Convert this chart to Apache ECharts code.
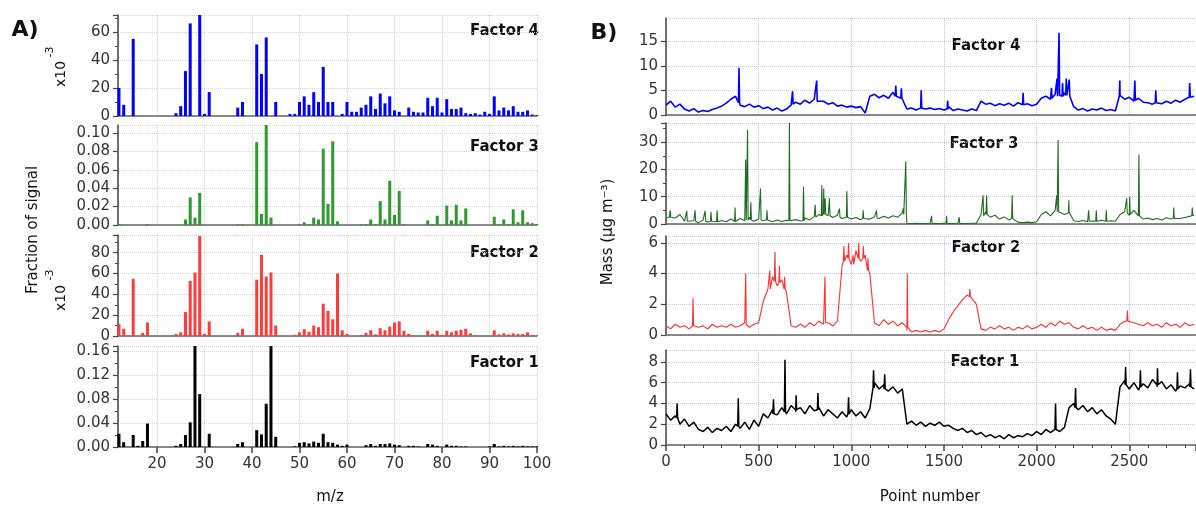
<!DOCTYPE html>
<html><head><meta charset="utf-8">
<script src="https://cdn.jsdelivr.net/npm/echarts@6/dist/echarts.min.js"></script>
<style>html,body{margin:0;padding:0;background:#fff}#c{width:1196px;height:510px}</style>
</head><body><div id="c"></div>
<script>
// ---------- Panel A: mass spectra (m/z 12..100) ----------
const MZ_START = 12;
const specF4 = [20,8,0,55,0,0,0,0,0,0,0,0,2,7,32,66,0,72,1.5,17,0,0,0,0,0,6,10,0,0,51,30,56,0,10,0,0,1.5,1.5,10,14,8,17,10,35,10,10,0,1.5,10,3,3,6,8,14,5,16,9,14,4,3,0,6,3,2.5,2.5,13,7,13,2.5,12,5,5,6,2,1.5,2,1,3,1.5,14,4,6,4,7,3,3,4,1,0.5]; // x10^-3
const specF3 = [0.001,0,0,0,0,0,0.001,0,0,0,0,0,0,0,0.006,0.030,0.008,0.035,0,0,0,0,0,0,0,0.001,0.001,0,0,0.090,0.012,0.109,0.008,0,0,0,0,0,0.001,0.003,0.001,0.008,0.006,0.083,0.023,0.091,0.004,0,0,0,0,0.001,0.001,0.006,0.001,0.026,0.006,0.048,0.011,0.037,0.001,0,0,0,0,0.005,0.001,0.010,0,0.021,0.005,0.022,0.005,0.018,0,0,0,0,0,0.009,0.001,0.006,0.001,0.017,0.003,0.016,0.003,0.002,0.001];
const specF2 = [11.6,7,0,55,0,3,13,0,0,0,0,0,2,3.5,23,53,61,96,2,14,0,0,0,0,0,3,7,0,0,54,78,57,61,10,0,0,0,1,3.5,6.5,4,10,8.5,31,24,16,60,5.5,2,0,0,1,3,5.5,1.5,7.5,5.5,9,13,14,5,2,0.6,0,0,5,2,5,0.8,5,3.5,5,6,7,2.5,0.6,0,0,0,5.5,1.5,2.5,1.5,2.5,2,2,3.5,0.8,0.6]; // x10^-3
const specF1 = [0.022,0.008,0,0.020,0.002,0.010,0.039,0,0,0,0,0,0.002,0.005,0.020,0.041,0.168,0.088,0,0.022,0,0,0,0,0,0.005,0.008,0,0,0.028,0.021,0.072,0.168,0.017,0,0,0,0.001,0.007,0.008,0.006,0.009,0.007,0.022,0.008,0.007,0.004,0.002,0.004,0,0,0,0.003,0.005,0.002,0.005,0.005,0.006,0.004,0.003,0,0.002,0.002,0.001,0,0.005,0.004,0.002,0,0.004,0.002,0.002,0.001,0.001,0,0,0,0,0.001,0.005,0.001,0.002,0.001,0.002,0.001,0.002,0.001,0.001,0.001];

// ---------- Panel B: time series, sampled every 25 points ----------
const STEP = 25;
const tsF4 = [2.0,2.8,1.6,2.2,1.2,0.8,1.3,0.6,0.9,0.7,1.1,1.4,1.8,2.4,3.2,3.8,2.0,1.7,2.2,1.6,1.9,1.3,1.6,1.0,1.4,0.8,1.2,2.0,2.6,2.2,3.0,2.4,3.2,2.6,2.8,2.2,2.5,1.8,2.0,1.6,1.8,1.5,1.7,0.4,3.8,4.2,3.5,4.0,3.4,4.6,3.8,3.2,1.2,1.4,1.0,1.6,1.2,1.4,1.1,1.3,1.0,1.7,0.9,1.2,1.0,0.8,1.2,0.9,2.8,2.2,2.4,1.9,2.3,2.0,2.4,1.8,2.5,2.1,2.3,1.9,2.2,3.4,3.8,3.2,4.2,3.6,4.5,3.8,1.7,1.0,1.3,0.8,1.2,1.0,1.4,0.9,1.1,0.8,4.0,3.2,3.6,2.8,3.4,2.6,2.5,2.2,2.6,2.3,2.8,2.4,3.0,2.6,3.2,3.6,3.8];
const spkF4 = [[394,9.6,2.5],[683,4.8,2.2],[813,7.0,2.8],[1240,6.0,3.8],[1270,5.4,3.4],[1377,5.0,1.4],[1520,2.9,1.2],[1927,4.5,2.1],[2080,5.5,3.4],[2110,7.4,3.8],[2121,16.7,4.0],[2140,6.5,3.8],[2160,7.4,4.0],[2176,7.2,3.8],[2449,7.0,3.8],[2530,7.0,3.0],[2643,5.0,2.5],[2826,6.5,3.6]];
const tsF3 = [2.5,3.8,2.2,3.5,1.0,0.6,1.2,0.5,1.4,0.7,1.6,0.6,1.3,0.8,1.8,0.9,2.0,1.2,2.5,1.0,1.8,1.2,2.0,0.8,1.5,0.9,1.4,1.0,1.6,1.1,2.2,1.5,2.8,3.5,4.2,3.0,2.4,3.2,2.0,2.6,1.8,2.4,1.6,2.2,1.8,2.6,2.0,2.8,2.2,3.0,2.5,4.0,0.3,0.2,0.3,0.2,0.2,0.3,0.2,0.2,0.3,0.2,0.2,0.3,0.2,0.2,0.3,0.3,3.5,4.5,2.5,3.2,1.8,2.6,1.5,2.0,0.6,0.5,0.7,0.5,0.8,3.5,4.5,3.0,5.0,4.0,3.5,4.5,1.2,0.9,1.3,0.8,1.1,0.9,1.4,0.8,1.2,1.0,3.5,4.5,3.2,5.0,3.0,1.8,2.2,1.6,2.0,1.5,2.3,1.8,2.6,2.0,2.4,2.8,3.2];
const spkF3 = [[22,5.0,2.5],[112,4.8,1.0],[157,5.0,1.0],[211,4.8,1.0],[243,4.5,1.0],[276,5.0,0.8],[373,6.0,1.0],[430,23.6,1.5],[440,34.5,1.5],[458,8.0,1.5],[510,13.0,1.5],[545,5.0,1.5],[666,37.0,1.2],[742,13.6,1.2],[805,7.0,2.5],[841,14.2,3.0],[851,13.0,3.5],[859,9.4,3.5],[882,9.4,3.0],[936,5.7,2.5],[976,12.0,2.5],[1064,5.0,2.0],[1136,5.0,2.2],[1280,5.7,3.5],[1294,23.0,3.0],[1433,3.0,0.2],[1514,3.0,0.2],[1582,2.5,0.2],[1711,10.5,3.0],[1730,10.5,3.5],[1868,10.5,2.0],[2108,10.5,4.5],[2116,30.8,4.5],[2174,8.7,4.0],[2281,5.0,1.0],[2322,5.0,1.0],[2376,5.0,1.0],[2486,9.4,4.0],[2502,10.0,3.5],[2552,25.5,3.0],[2740,6.0,2.0],[2840,6.0,3.0]];
const tsF2 = [0.6,0.4,0.7,0.5,0.6,0.4,0.7,0.5,0.6,0.4,0.7,0.5,0.6,0.5,0.7,0.5,0.6,0.8,0.5,0.7,0.8,2.2,3.0,3.8,3.2,3.6,2.8,0.6,0.5,0.7,0.5,0.8,0.6,0.9,0.7,0.8,0.6,0.9,4.5,5.2,4.6,5.5,4.8,5.2,4.0,0.8,0.6,1.0,0.7,0.9,0.6,0.8,0.3,0.2,0.3,0.2,0.3,0.2,0.3,0.2,0.4,1.0,1.5,1.9,2.3,2.6,2.4,2.0,0.4,0.3,0.5,0.4,0.6,0.4,0.5,0.3,0.5,0.4,0.6,0.4,0.5,0.7,0.5,0.8,0.6,0.9,0.7,0.8,0.5,0.4,0.6,0.4,0.5,0.3,0.5,0.3,0.4,0.3,0.7,0.9,1.0,0.8,0.7,0.6,0.8,0.6,0.7,0.5,0.8,0.6,0.7,0.5,0.8,0.6,0.7];
const spkF2 = [[146,2.4,0.6],[430,4.0,0.7],[560,4.2,3.0],[588,5.4,3.5],[612,4.5,3.4],[640,3.8,3.0],[858,3.8,0.8],[960,5.8,4.8],[985,6.0,5.0],[1010,5.2,4.6],[1040,6.0,5.0],[1065,5.8,5.0],[1090,5.0,4.2],[1302,4.0,0.5],[1640,3.0,2.5],[2490,1.6,0.9]];
const tsF1 = [3.0,2.4,2.8,2.0,2.5,1.8,2.2,1.5,1.3,1.7,1.2,1.6,1.4,1.8,1.3,2.0,1.6,2.2,1.5,2.4,1.8,3.0,2.6,3.4,2.9,3.6,3.0,3.8,3.2,3.6,3.0,3.8,3.3,3.6,2.8,3.4,3.0,2.6,3.2,2.7,3.4,2.8,3.2,2.6,3.5,6.0,5.4,5.8,5.2,5.6,5.0,5.4,2.0,2.3,1.9,2.2,1.8,2.1,1.9,2.2,1.8,1.9,1.6,1.4,1.6,1.2,1.4,1.0,1.2,0.8,1.0,0.7,0.9,0.6,1.0,0.7,0.9,0.8,1.1,0.9,1.3,1.0,1.5,1.2,1.6,1.3,1.7,3.6,4.0,3.4,3.8,3.2,3.6,3.0,3.4,2.8,2.5,2.0,5.6,6.2,5.4,6.0,5.3,5.9,5.5,6.3,5.6,6.1,5.4,5.8,5.2,5.7,5.5,5.9,5.4];
const spkF1 = [[60,4.0,2.6],[390,4.5,1.8],[580,4.4,3.0],[642,8.2,3.2],[702,4.8,3.4],[820,5.0,3.4],[985,4.6,3.0],[1120,7.2,5.5],[1180,6.8,5.4],[2102,4.0,1.5],[2210,5.5,3.6],[2480,7.5,5.8],[2560,7.2,5.6],[2652,7.4,5.8],[2760,7.0,5.4],[2830,7.3,5.6]];

const FONT = '"DejaVu Sans", sans-serif';

function spec(arr){ return arr.map((v,i)=>[MZ_START+i, v]); }
function ts(base, spikes){
  const pts = base.map((v,i)=>[i*STEP, v]);
  spikes.forEach(([p,peak,foot])=>{ pts.push([p-3,foot],[p,peak],[p+3,foot]); });
  pts.sort((a,b)=>a[0]-b[0]);
  return pts;
}

// layout
const L = {left:118, width:419};
const R = {left:666, width:530};
const gl = [ {top:15,h:101},{top:125,h:100},{top:235,h:101},{top:346,h:101} ];
const gr = [ {top:18,h:97},{top:123,h:101},{top:236,h:99},{top:350,h:95} ];

const grids = [], xAxes = [], yAxes = [], series = [];
const axisCol = '#444';
function yAx(gi, max, interval, fmt, minor, gridCol){
  return {type:'value', gridIndex:gi, min:0, max:max, interval:interval,
    axisLine:{show:true, onZero:false, lineStyle:{color:axisCol, width:1.5}},
    axisTick:{show:true, length:5, lineStyle:{color:axisCol, width:1.2}},
    minorTick:{show:minor, splitNumber:2, length:3, lineStyle:{color:axisCol}},
    axisLabel:{fontFamily:FONT, fontSize:15, color:'#333', margin:8, formatter:fmt, showMaxLabel:false},
    splitLine:{show:true, lineStyle:{type:'dotted', color:gridCol, width:1}}};
}
// left panel
const leftY = [
  {max:72, int:20, fmt:v=>String(Math.round(v)), minor:true},
  {max:0.1087, int:0.02, fmt:v=>v.toFixed(2), minor:false},
  {max:97, int:20, fmt:v=>String(Math.round(v)), minor:true},
  {max:0.168, int:0.04, fmt:v=>v.toFixed(2), minor:true}
];
const leftData = [specF4, specF3, specF2, specF1];
const leftCol = ['#0000ff','#2e9a2e','#ff3b3b','#000000'];
for(let k=0;k<4;k++){
  const gi = k;
  grids.push({left:L.left, width:L.width, top:gl[k].top, height:gl[k].h, outerBoundsMode:'none'});
  const bottom = k===3;
  xAxes.push({type:'value', gridIndex:gi, min:11.8, max:100, minInterval:10, maxInterval:10, splitNumber:9,
    axisLine:{show:true, onZero:false, lineStyle:{color:'#666', width:1.5}},
    axisTick:{show:bottom, length:6, lineStyle:{color:axisCol, width:1.5}},
    axisLabel:{show:bottom, fontFamily:FONT, fontSize:15, color:'#333', margin:10, showMinLabel:false, formatter:v=>String(Math.round(v))},
    splitLine:{show:true, lineStyle:{type:'dotted', color:'#d4d4d4'}}});
  yAxes.push(yAx(gi, leftY[k].max, leftY[k].int, leftY[k].fmt, leftY[k].minor, '#d4d4d4'));
  series.push({type:'bar', xAxisIndex:gi, yAxisIndex:gi, data:spec(leftData[k]), barWidth:3,
    itemStyle:{color:leftCol[k]}, silent:true});
}
// right panel
const rightY = [
  {max:19.7, int:5, minor:false},
  {max:37, int:10, minor:true},
  {max:6.45, int:2, minor:false},
  {max:9.15, int:2, minor:false}
];
const rightData = [ts(tsF4,spkF4), ts(tsF3,spkF3), ts(tsF2,spkF2), ts(tsF1,spkF1)];
const rightCol = ['#0000ff','#1f6e1f','#ff3030','#000000'];
const rightW = [1.6, 1.1, 1.1, 1.5];
for(let k=0;k<4;k++){
  const gi = 4+k;
  grids.push({left:R.left, width:R.width, top:gr[k].top, height:gr[k].h, outerBoundsMode:'none'});
  const bottom = k===3;
  xAxes.push({type:'value', gridIndex:gi, min:0, max:2860, interval:500,
    axisLine:{show:true, onZero:false, lineStyle:{color:'#666', width:1.5}},
    axisTick:{show:bottom, length:6, lineStyle:{color:axisCol, width:1.5}},
    minorTick:{show:bottom, splitNumber:5, length:3, lineStyle:{color:axisCol}},
    axisLabel:{show:bottom, fontFamily:FONT, fontSize:15, color:'#333', margin:10, showMaxLabel:false, formatter:v=>String(Math.round(v))},
    splitLine:{show:true, lineStyle:{type:'dotted', color:'#c4c4f0'}}});
  yAxes.push(yAx(gi, rightY[k].max, rightY[k].int, v=>String(Math.round(v)), rightY[k].minor, '#c4c4f0'));
  series.push({type:'line', xAxisIndex:gi, yAxisIndex:gi, data:rightData[k], showSymbol:false,
    lineStyle:{color:rightCol[k], width:rightW[k]}, silent:true, sampling:'none'});
}

function txt(x,y,t,font,align,rot){
  return {type:'text', x:x, y:y, rotation:rot||0, silent:true,
    style:{text:t, font:font, fill:'#111', textAlign:align||'center', textVerticalAlign:'middle'}};
}
const bold15 = 'bold 15px '+FONT;
const reg15 = '15px '+FONT;
const graphic = [
  txt(25,30,'A)','bold 22px '+FONT),
  txt(604,33,'B)','bold 22px '+FONT),
  txt(539,31,'Factor 4',bold15,'right'),
  txt(539,147,'Factor 3',bold15,'right'),
  txt(539,253,'Factor 2',bold15,'right'),
  txt(539,363,'Factor 1',bold15,'right'),
  txt(986,46,'Factor 4',bold15),
  txt(984,144,'Factor 3',bold15),
  txt(986,248,'Factor 2',bold15),
  txt(985,362,'Factor 1',bold15),
  txt(33,230,'Fraction of signal',reg15,'center',Math.PI/2),
  txt(61,74,'x10','14px '+FONT,'center',Math.PI/2),
  txt(50,52,'-3','11px '+FONT,'center',Math.PI/2),
  txt(61,298,'x10','14px '+FONT,'center',Math.PI/2),
  txt(50,275,'-3','11px '+FONT,'center',Math.PI/2),
  txt(608,232,'Mass (µg m⁻³)',reg15,'center',Math.PI/2),
  txt(330,497,'m/z',reg15),
  txt(930,497,'Point number',reg15)
];

const chart = echarts.init(document.getElementById('c'), null, {renderer:'canvas'});
chart.setOption({animation:false, backgroundColor:'#fff', grid:grids, xAxis:xAxes, yAxis:yAxes, series:series, graphic:graphic});
</script></body></html>
